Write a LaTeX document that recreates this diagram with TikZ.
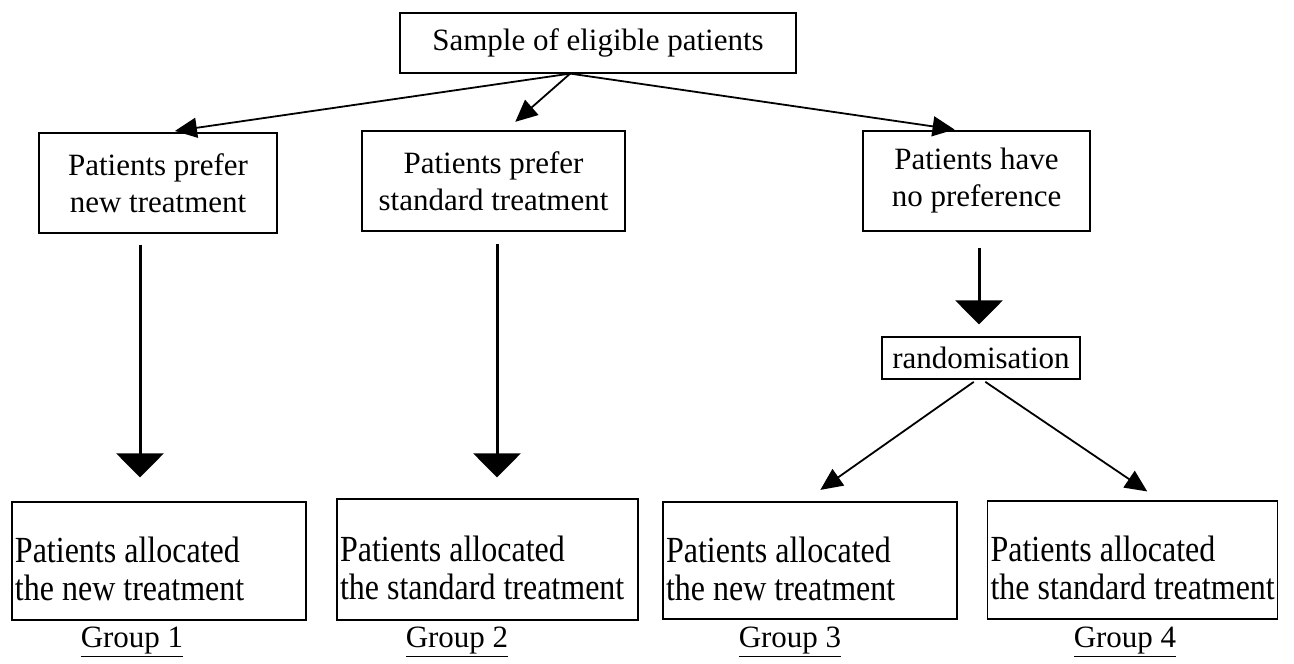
\documentclass[tikz,border=0pt]{standalone}
\usepackage{fontspec}
\usepackage{graphicx}
\setmainfont{Liberation Serif}
\usetikzlibrary{arrows.meta,calc}
\newcommand\vstretch[3]{\raisebox{-8pt}[\height][\depth]{\scalebox{1}[1.15]{\parbox{#1}{\raggedright\mbox{#2}\\\mbox{#3}}}}}
\begin{document}
\begin{tikzpicture}[x=1pt,y=-1pt,
  box/.style={draw, line width=1.2pt, inner sep=0pt, align=center, font=\fontsize{31}{37}\selectfont},
  lbox/.style={draw, line width=1.2pt, inner ysep=0pt, inner xsep=3pt, font=\fontsize{32}{33}\selectfont},
  thinarrow/.style={line width=1.8pt, -{Triangle[length=22pt,width=20pt]}},
  thickarrow/.style={line width=3pt, -{Triangle[length=24pt,width=47pt]}},
  lbl/.style={font=\fontsize{31}{37}\selectfont}]
\useasboundingbox (0,0) rectangle (1294,664);
\node[box, minimum width=396pt, minimum height=60pt] (top) at (598,43) {Sample of eligible patients};
\node[box, minimum width=238pt, minimum height=100pt] (A) at (158,183) {Patients prefer\\new treatment};
\node[box, minimum width=263pt, minimum height=100pt] (B) at (493.5,181) {Patients prefer\\standard treatment};
\node[box, minimum width=227pt, minimum height=100pt] (C) at (976.5,181) {Patients have\\no preference};
\node[box, minimum width=198pt, minimum height=42pt] (rand) at (981,358) {randomisation};
\node[lbox, minimum width=294pt, minimum height=118pt] (b1) at (159,561) {\vstretch{288pt}{Patients allocated}{the new treatment}};
\node[lbox, minimum width=301pt, minimum height=121pt] (b2) at (487.5,559.5) {\vstretch{295pt}{Patients allocated}{the standard treatment}};
\node[lbox, minimum width=294pt, minimum height=117pt] (b3) at (810,560.5) {\vstretch{288pt}{Patients allocated}{the new treatment}};
\node[lbox, minimum width=290pt, minimum height=118pt] (b4) at (1132.5,560) {\vstretch{284pt}{Patients allocated}{the standard treatment}};
\node[lbl] (g1) at (132,642) {\underline{Group 1}};
\node[lbl] (g2) at (457,642) {\underline{Group 2}};
\node[lbl] (g3) at (790,642) {\underline{Group 3}};
\node[lbl] (g4) at (1125,642) {\underline{Group 4}};
\coordinate (o) at ($(top.south west)!0.43!(top.south east)$);
\draw[thinarrow, shorten >=10pt] (o) -- ([xshift=7pt]A.north);
\draw[thinarrow, shorten >=13pt] (o) -- ([xshift=12pt]B.north);
\draw[thinarrow, shorten >=6pt] (o) -- ([xshift=-16pt]C.north);
\draw[thickarrow, shorten <=11pt, shorten >=24pt] ([xshift=-18pt]A.south) -- ([xshift=-19pt]b1.north);
\draw[thickarrow, shorten <=12pt, shorten >=21pt] ([xshift=3.5pt]B.south) -- ([xshift=9.5pt]b2.north);
\draw[thickarrow, shorten <=16pt, shorten >=12pt] ([xshift=2.5pt]C.south) -- ([xshift=-2pt]rand.north);
\draw[thinarrow, shorten <=4pt, shorten >=20pt] ([xshift=-4pt]rand.south) -- ([xshift=-6pt]b3.north);
\draw[thinarrow, shorten <=4pt, shorten >=16pt] ([xshift=1pt]rand.south) -- ([xshift=28pt]b4.north);
\end{tikzpicture}
\end{document}
